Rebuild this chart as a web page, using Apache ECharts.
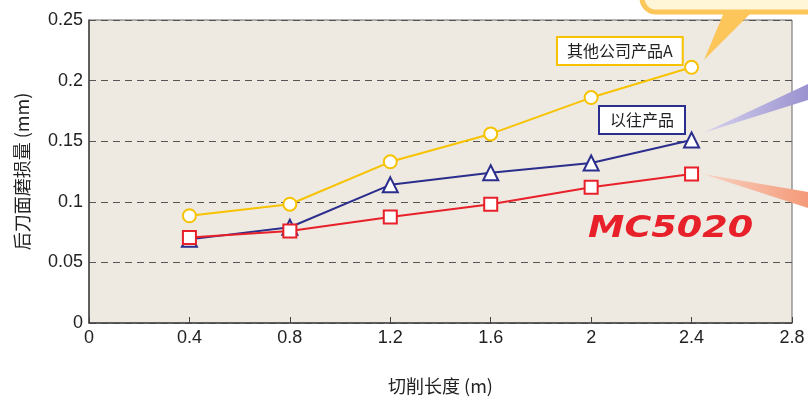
<!DOCTYPE html>
<html><head><meta charset="utf-8">
<script src="https://cdn.jsdelivr.net/npm/echarts@6/dist/echarts.min.js"></script>
<style>html,body{margin:0;padding:0;background:#fff}#c{width:808px;height:400px}</style>
</head><body><div id="c"></div>
<script>
const xValues = [0.4, 0.8, 1.2, 1.6, 2.0, 2.4];
const otherA = [0.0885, 0.098, 0.133, 0.156, 0.186, 0.211];
const previous = [0.069, 0.079, 0.114, 0.124, 0.132, 0.151];
const mc5020 = [0.0705, 0.076, 0.0875, 0.098, 0.112, 0.123];
const seriesNames = ['其他公司产品A', '以往产品', 'MC5020'];

const chart = echarts.init(document.getElementById('c'));
const pts = arr => xValues.map((x, i) => [x, arr[i]]);
const font = '"Liberation Sans", Arial, sans-serif';
const cjk = '"Noto Sans CJK SC", sans-serif';

chart.setOption({
  animation: false,
  backgroundColor: '#fff',
  grid: {left: 89, right: 16, top: 20, bottom: 75, show: true,
    backgroundColor: '#EEEAE1', borderColor: '#666', borderWidth: 1},
  xAxis: {type: 'value', min: 0, max: 2.8, interval: 0.4,
    name: '切削长度 (m)', nameLocation: 'middle', nameGap: 54,
    nameTextStyle: {fontFamily: cjk, fontSize: 18, color: '#222'},
    axisLine: {show: true, lineStyle: {color: '#444', width: 1.5}},
    axisTick: {show: true, inside: true, length: 6, lineStyle: {color: '#444'}},
    axisLabel: {fontFamily: font, fontSize: 18, color: '#222', margin: 6},
    splitLine: {show: false}},
  yAxis: {type: 'value', min: 0, max: 0.25, interval: 0.05,
    name: '后刀面磨损量 (mm)', nameLocation: 'middle', nameGap: 58,
    nameTextStyle: {fontFamily: cjk, fontSize: 18, color: '#222'},
    axisLine: {show: true, lineStyle: {color: '#444', width: 1.5}},
    axisTick: {show: false},
    axisLabel: {fontFamily: font, fontSize: 18, color: '#222', margin: 6},
    splitLine: {show: true, lineStyle: {color: '#555', type: [7, 5], width: 1.2}}},
  series: [
    {name: seriesNames[0], type: 'line', data: pts(otherA), symbol: 'circle', symbolSize: 13,
      lineStyle: {color: '#F7C200', width: 2}, itemStyle: {color: '#fff', borderColor: '#F7C200', borderWidth: 2}, z: 3},
    {name: seriesNames[1], type: 'line', data: pts(previous), symbol: 'triangle', symbolSize: 15,
      lineStyle: {color: '#2B2E8C', width: 2}, itemStyle: {color: '#fff', borderColor: '#2B2E8C', borderWidth: 2}, z: 4},
    {name: seriesNames[2], type: 'line', data: pts(mc5020), symbol: 'rect', symbolSize: 13,
      lineStyle: {color: '#E8202A', width: 2}, itemStyle: {color: '#fff', borderColor: '#E8202A', borderWidth: 2}, z: 5}
  ],
  graphic: [
    {type: 'rect', shape: {x: 642, y: -30, width: 200, height: 42, r: 14},
      style: {fill: '#FFF6D8', stroke: '#FDC65A', lineWidth: 5}, z: 10},
    {type: 'polygon', shape: {points: [[725, 10], [754, 10], [704, 60]]},
      style: {fill: '#FDC65A'}, z: 10},
    {type: 'polygon', shape: {points: [[703, 133], [808, 84], [808, 100]]},
      style: {fill: new echarts.graphic.LinearGradient(0, 0, 1, 0, [{offset: 0, color: '#D8D4EE'}, {offset: 1, color: '#9A92D0'}])}, z: 10},
    {type: 'polygon', shape: {points: [[703, 174], [808, 192], [808, 208]]},
      style: {fill: new echarts.graphic.LinearGradient(0, 0, 1, 0, [{offset: 0, color: '#F9D3C4'}, {offset: 1, color: '#F49A78'}])}, z: 10},
    {type: 'text', x: 558, y: 38, z: 11,
      style: {text: seriesNames[0], font: '16px ' + cjk, fill: '#222', backgroundColor: '#fff',
        borderColor: '#F7C200', borderWidth: 2, padding: [5, 9, 5, 9]}},
    {type: 'text', x: 600, y: 107, z: 11,
      style: {text: seriesNames[1], font: '16px ' + cjk, fill: '#222', backgroundColor: '#fff',
        borderColor: '#2B2E8C', borderWidth: 2, padding: [5, 10, 5, 10]}},
    {type: 'text', x: 588, y: 214, scaleX: 1.22, z: 11,
      style: {text: seriesNames[2], font: 'italic bold 30px "DejaVu Sans", sans-serif', fill: '#E8202A'}}
  ]
});
</script></body></html>
